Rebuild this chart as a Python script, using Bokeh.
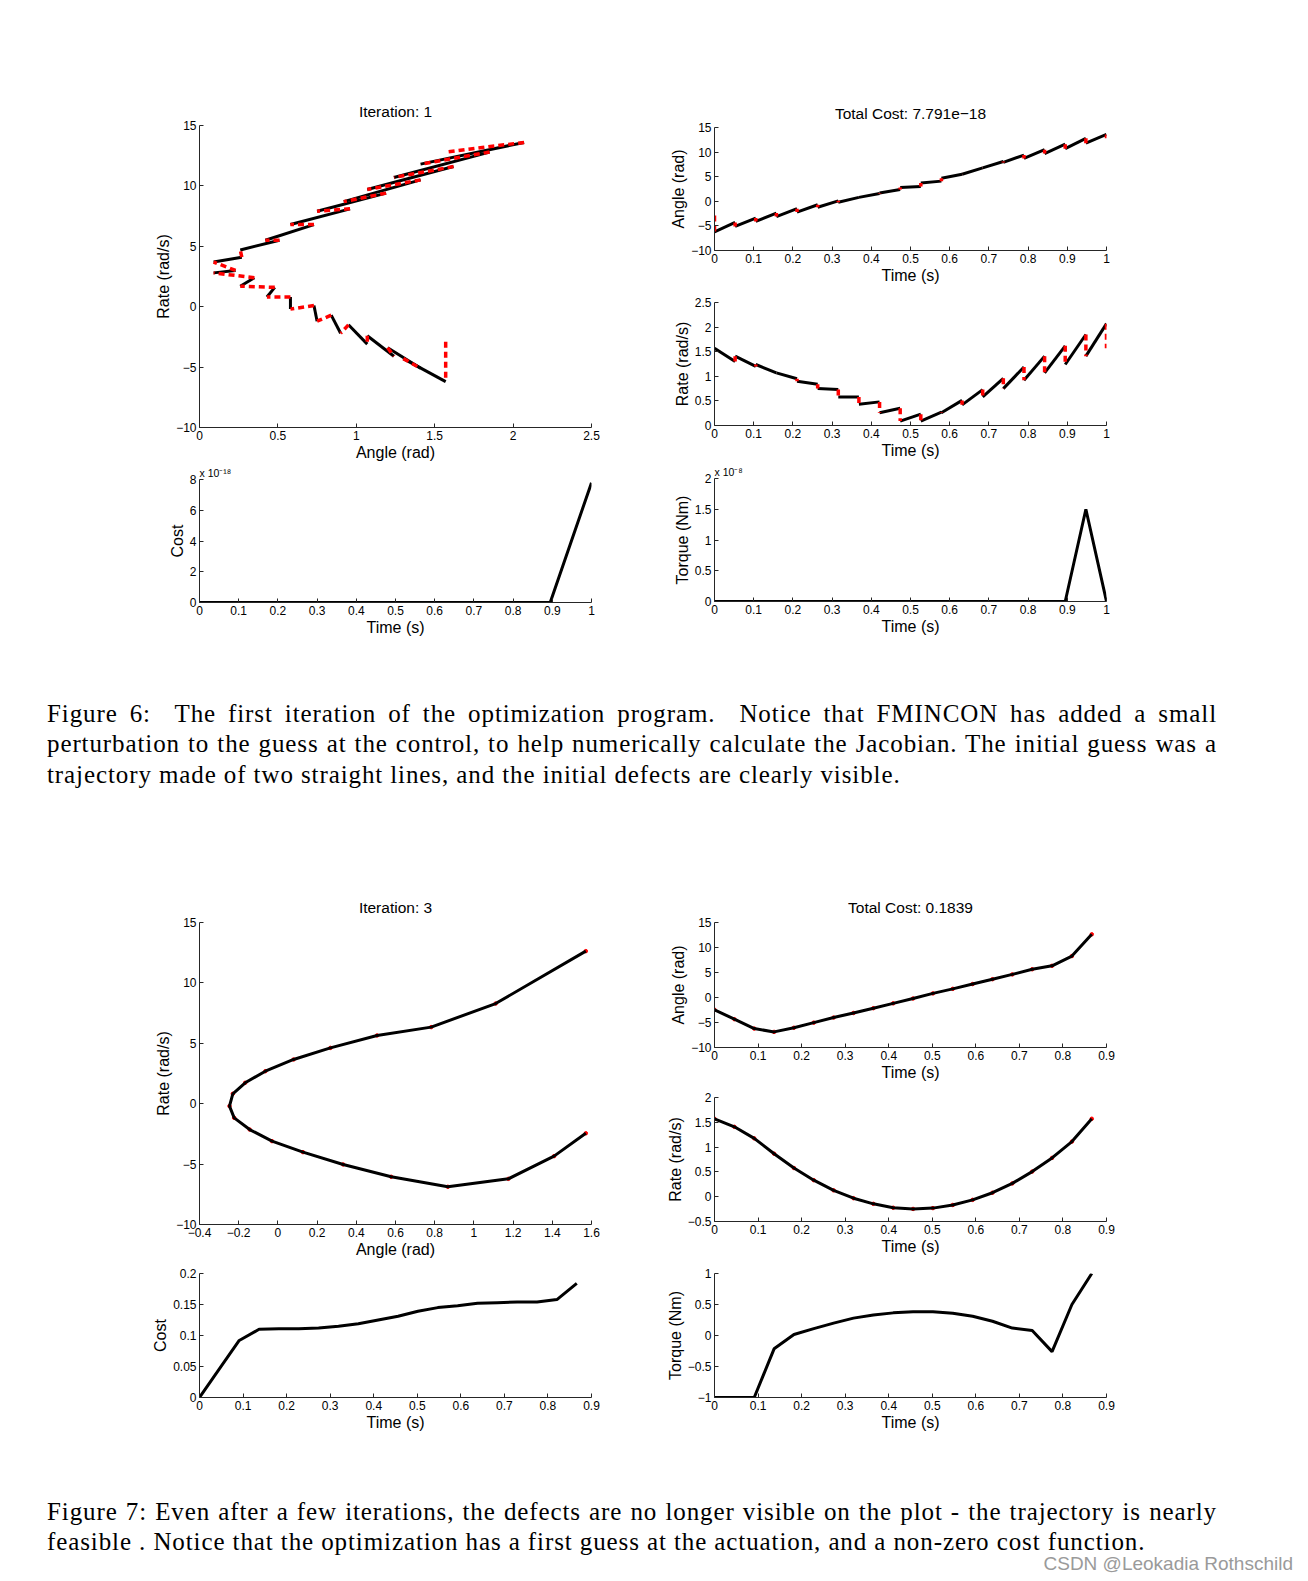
from bokeh.plotting import figure
from bokeh.layouts import column, row
from bokeh.models import Range1d, FixedTicker, CustomJSTickFormatter, Title, Div
from bokeh.embed import file_html
from bokeh.resources import INLINE

# ---------------- Figure 6 data (iteration 1) ----------------
t6_nodes = [0.0, 0.0526, 0.1053, 0.1579, 0.2105, 0.2632, 0.3158, 0.3684, 0.4211, 0.4737,
            0.5263, 0.5789, 0.6316, 0.6842, 0.7368, 0.7895, 0.8421, 0.8947, 0.9474, 1.0]
# state 1 (plotted on the "Angle (rad)" time axis / vertical axis of phase plot)
seg_a_start = [-6.2, -5.1, -4.1, -3.1, -2.2, -1.2, -0.2, 0.8, 1.7, 2.8,
               3.7, 4.7, 5.5, 6.8, 7.9, 8.7, 9.7, 10.7, 11.8]
seg_a_end = [-4.3, -3.4, -2.4, -1.5, -0.7, 0.1, 0.8, 1.6, 2.4, 3.0,
             4.1, 5.5, 6.8, 8.1, 9.4, 10.5, 11.6, 12.8, 13.6]
# state 2 (plotted on the "Rate (rad/s)" time axis / horizontal axis of phase plot)
seg_r_start = [1.57, 1.41, 1.24, 1.07, 0.90, 0.75, 0.58, 0.43, 0.26, 0.09,
               0.09, 0.26, 0.42, 0.58, 0.75, 0.92, 1.07, 1.24, 1.41]
seg_r_end = [1.30, 1.20, 1.07, 0.95, 0.84, 0.73, 0.58, 0.48, 0.35, 0.23,
             0.27, 0.51, 0.73, 0.96, 1.19, 1.41, 1.62, 1.85, 2.07]
a_targets = [-2.9, 12.8]   # boundary values (start, end)
r_targets = [1.57, 1.57]
cost6 = [0, 0, 0, 0, 0, 0, 0, 0, 0, 0, 0, 0, 0, 0, 0, 0, 0, 0, 3.9, 7.79]      # x 1e-18
torque6 = [0, 0, 0, 0, 0, 0, 0, 0, 0, 0, 0, 0, 0, 0, 0, 0, 0, 0, 1.5, 0]       # x 1e-8

# ---------------- Figure 7 data (iteration 3) ----------------
t7_nodes = [0.0, 0.0456, 0.0912, 0.1368, 0.1824, 0.2279, 0.2735, 0.3191, 0.3647, 0.4103,
            0.4559, 0.5015, 0.5471, 0.5927, 0.6383, 0.6838, 0.7294, 0.7750, 0.8206, 0.8662]
angle7 = [-2.45, -4.34, -6.22, -6.88, -6.05, -5.03, -4.01, -3.10, -2.14, -1.17,
          -0.20, 0.82, 1.73, 2.69, 3.66, 4.62, 5.65, 6.34, 8.29, 12.63]
rate7 = [1.571, 1.409, 1.176, 0.867, 0.578, 0.333, 0.128, -0.030, -0.144, -0.223,
         -0.247, -0.230, -0.167, -0.064, 0.080, 0.268, 0.506, 0.782, 1.111, 1.571]
cost7 = [0.0, 0.046, 0.092, 0.110, 0.1108, 0.111, 0.112, 0.115, 0.119, 0.125,
         0.131, 0.139, 0.145, 0.148, 0.152, 0.153, 0.154, 0.154, 0.158, 0.184]
torque7 = [-1.0, -1.0, -1.0, -0.215, 0.016, 0.11, 0.20, 0.28, 0.33, 0.365,
           0.385, 0.385, 0.36, 0.31, 0.23, 0.12, 0.08, -0.26, 0.50, 1.0]

# ---------------- ticks ----------------
ticks_m10_15 = [-10, -5, 0, 5, 10, 15]
labels_m10_15 = ["\u221210", "\u22125", "0", "5", "10", "15"]
ticks_0_25 = [0, 0.5, 1, 1.5, 2, 2.5]
labels_0_25 = ["0", "0.5", "1", "1.5", "2", "2.5"]
ticks_t1 = [0, 0.1, 0.2, 0.3, 0.4, 0.5, 0.6, 0.7, 0.8, 0.9, 1.0]
labels_t1 = ["0", "0.1", "0.2", "0.3", "0.4", "0.5", "0.6", "0.7", "0.8", "0.9", "1"]
ticks_t09 = [0, 0.1, 0.2, 0.3, 0.4, 0.5, 0.6, 0.7, 0.8, 0.9]
labels_t09 = ["0", "0.1", "0.2", "0.3", "0.4", "0.5", "0.6", "0.7", "0.8", "0.9"]
ticks_cost6 = [0, 2, 4, 6, 8]
labels_cost6 = ["0", "2", "4", "6", "8"]
ticks_torque6 = [0, 0.5, 1, 1.5, 2]
labels_torque6 = ["0", "0.5", "1", "1.5", "2"]
ticks_ph7 = [-0.4, -0.2, 0, 0.2, 0.4, 0.6, 0.8, 1.0, 1.2, 1.4, 1.6]
labels_ph7 = ["\u22120.4", "\u22120.2", "0", "0.2", "0.4", "0.6", "0.8", "1", "1.2", "1.4", "1.6"]
ticks_rate7 = [-0.5, 0, 0.5, 1, 1.5, 2]
labels_rate7 = ["\u22120.5", "0", "0.5", "1", "1.5", "2"]
ticks_cost7 = [0, 0.05, 0.1, 0.15, 0.2]
labels_cost7 = ["0", "0.05", "0.1", "0.15", "0.2"]
ticks_torque7 = [-1, -0.5, 0, 0.5, 1]
labels_torque7 = ["\u22121", "\u22120.5", "0", "0.5", "1"]

SANS = "Liberation Sans"
LW = 3
RED_W = 3.5
RED_DASH = "6 4"
AX = "#262626"


def style_axis(ax, ticks, labels, standoff):
    ax.ticker = FixedTicker(ticks=ticks)
    ax.formatter = CustomJSTickFormatter(args=dict(vals=ticks, labels=labels), code="""
        for (let i = 0; i < vals.length; i++) {
            if (Math.abs(vals[i] - tick) < 1e-9) { return labels[i]; }
        }
        return "";
    """)
    ax.axis_line_color = AX
    ax.axis_line_width = 1
    ax.major_tick_line_color = AX
    ax.major_tick_in = 4
    ax.major_tick_out = 0
    ax.minor_tick_line_color = None
    ax.major_label_text_font = SANS
    ax.major_label_text_font_size = "12px"
    ax.major_label_text_color = "black"
    ax.major_label_standoff = standoff
    ax.axis_label_text_font = SANS
    ax.axis_label_text_font_size = "16px"
    ax.axis_label_text_font_style = "normal"
    ax.axis_label_text_color = "black"
    ax.axis_label_standoff = 1


def make_fig(fw, fh, xr, yr, xt, xl, yt, yl, xlabel, ylabel, borders, title=None, title_standoff=12):
    top, right, bottom, left = borders
    p = figure(frame_width=fw, frame_height=fh,
               x_range=Range1d(*xr), y_range=Range1d(*yr),
               output_backend="svg", toolbar_location=None,
               min_border_top=top, min_border_right=right,
               min_border_bottom=bottom, min_border_left=left,
               title=title)
    p.outline_line_color = None
    p.xgrid.visible = False
    p.ygrid.visible = False
    p.background_fill_color = "white"
    p.border_fill_color = "white"
    p.xaxis.axis_label = xlabel
    p.yaxis.axis_label = ylabel
    style_axis(p.xaxis[0], xt, xl, 3)
    style_axis(p.yaxis[0], yt, yl, 3)
    if title is not None:
        p.title.text_font = SANS
        p.title.text_font_size = "15.5px"
        p.title.text_font_style = "normal"
        p.title.align = "center"
        p.title.text_color = "black"
        p.title.standoff = title_standoff
    return p


def add_exponent(p, text):
    # MATLAB-style axis multiplier shown above the top-left corner of the axes
    p.add_layout(Title(text=text, align="left", text_font=SANS, text_font_size="10.5px",
                       text_font_style="normal", text_color="black", standoff=2, offset=0), "above")


# ---- Fig 6: phase plot ----
P1 = make_fig(392, 302, (0, 2.5), (-10, 15), ticks_0_25, labels_0_25, ticks_m10_15, labels_m10_15,
              "Angle (rad)", "Rate (rad/s)", (125, 53, 36, 199), title="Iteration: 1")
P1.segment(x0=seg_r_start, y0=seg_a_start, x1=seg_r_end, y1=seg_a_end, line_color="black", line_width=LW)
dx0 = [r_targets[0]] + seg_r_end
dy0 = [a_targets[0]] + seg_a_end
dx1 = seg_r_start + [r_targets[1]]
dy1 = seg_a_start + [a_targets[1]]
P1.segment(x0=dx0, y0=dy0, x1=dx1, y1=dy1, line_color="red", line_width=RED_W, line_dash=RED_DASH)

# ---- Fig 6: angle vs time ----
P2 = make_fig(392, 123, (0, 1), (-10, 15), ticks_t1, labels_t1, ticks_m10_15, labels_m10_15,
              "Time (s)", "Angle (rad)", (127, 30, 36, 70), title="Total Cost: 7.791e\u221218")
P2.segment(x0=t6_nodes[:-1], y0=seg_a_start, x1=t6_nodes[1:], y1=seg_a_end, line_color="black", line_width=LW)
P2.segment(x0=t6_nodes, y0=dy0, x1=t6_nodes, y1=dy1, line_color="red", line_width=RED_W, line_dash=RED_DASH)

# ---- Fig 6: rate vs time ----
P3 = make_fig(392, 123, (0, 1), (0, 2.5), ticks_t1, labels_t1, ticks_0_25, labels_0_25,
              "Time (s)", "Rate (rad/s)", (16, 30, 36, 70))
P3.segment(x0=t6_nodes[:-1], y0=seg_r_start, x1=t6_nodes[1:], y1=seg_r_end, line_color="black", line_width=LW)
P3.segment(x0=t6_nodes, y0=dx0, x1=t6_nodes, y1=dx1, line_color="red", line_width=RED_W, line_dash=RED_DASH)

# ---- Fig 6: cost ----
P4 = make_fig(392, 123, (0, 1), (0, 8), ticks_t1, labels_t1, ticks_cost6, labels_cost6,
              "Time (s)", "Cost", (15, 53, 40, 199))
P4.line(t6_nodes, cost6, line_color="black", line_width=LW)
add_exponent(P4, "x 10\u207b\u00b9\u2078")

# ---- Fig 6: torque ----
P5 = make_fig(392, 123, (0, 1), (0, 2), ticks_t1, labels_t1, ticks_torque6, labels_torque6,
              "Time (s)", "Torque (Nm)", (17, 30, 40, 70))
P5.line(t6_nodes, torque6, line_color="black", line_width=LW)
add_exponent(P5, "x 10\u207b\u2078")

# ---- Fig 7 ----
Q1 = make_fig(392, 302, (-0.4, 1.6), (-10, 15), ticks_ph7, labels_ph7, ticks_m10_15, labels_m10_15,
              "Angle (rad)", "Rate (rad/s)", (133, 53, 36, 199), title="Iteration: 3", title_standoff=14)
Q1.scatter(rate7, angle7, size=3.5, color="red")
Q1.line(rate7, angle7, line_color="black", line_width=LW)

Q2 = make_fig(392, 125, (0, 0.9), (-10, 15), ticks_t09, labels_t09, ticks_m10_15, labels_m10_15,
              "Time (s)", "Angle (rad)", (133, 30, 36, 70), title="Total Cost: 0.1839", title_standoff=14)
Q2.scatter(t7_nodes, angle7, size=3.5, color="red")
Q2.line(t7_nodes, angle7, line_color="black", line_width=LW)

Q3 = make_fig(392, 124, (0, 0.9), (-0.5, 2), ticks_t09, labels_t09, ticks_rate7, labels_rate7,
              "Time (s)", "Rate (rad/s)", (14, 30, 36, 70))
Q3.scatter(t7_nodes, rate7, size=3.5, color="red")
Q3.line(t7_nodes, rate7, line_color="black", line_width=LW)

Q4 = make_fig(392, 124, (0, 0.9), (0, 0.2), ticks_t09, labels_t09, ticks_cost7, labels_cost7,
              "Time (s)", "Cost", (13, 53, 40, 199))
Q4.line(t7_nodes, cost7, line_color="black", line_width=LW)

Q5 = make_fig(392, 124, (0, 0.9), (-1, 1), ticks_t09, labels_t09, ticks_torque7, labels_torque7,
              "Time (s)", "Torque (Nm)", (16, 30, 40, 70))
Q5.line(t7_nodes, torque7, line_color="black", line_width=LW)

# ---- captions ----
cap6_lines = [
    "Figure 6:&nbsp; The first iteration of the optimization program.&nbsp; Notice that FMINCON has added a small",
    "perturbation to the guess at the control, to help numerically calculate the Jacobian. The initial guess was a",
    "trajectory made of two straight lines, and the initial defects are clearly visible.",
]
cap7_lines = [
    "Figure 7: Even after a few iterations, the defects are no longer visible on the plot - the trajectory is nearly",
    "feasible . Notice that the optimization has a first guess at the actuation, and a non-zero cost function.",
]
watermark = "CSDN @Leokadia Rothschild"

SERIF = "'Liberation Serif', 'DejaVu Serif', serif"


def caption_html(lines, first_center, height, extra=""):
    parts = []
    for i, ln in enumerate(lines):
        last = (i == len(lines) - 1)
        align = "left" if last else "justify"
        top = first_center + i * 30.4 - 15.2
        parts.append(
            f'<div style="position:absolute;left:47px;top:{top:.1f}px;width:1170px;height:30.4px;'
            f'line-height:30.4px;font-family:{SERIF};font-size:25px;letter-spacing:0.9px;color:#000;'
            f'text-align:{align};text-align-last:{align};white-space:normal;">{ln}</div>')
    return (f'<div style="position:relative;width:1300px;height:{height}px;overflow:hidden;">'
            + "".join(parts) + extra + "</div>")


cap6 = Div(text=caption_html(cap6_lines, 72, 147), width=1300, height=147, margin=(0, 0, 0, 0))
wm = (f'<div style="position:absolute;right:7px;top:117px;line-height:20px;font-family:\'Liberation Sans\',sans-serif;'
      f'font-size:19px;color:#9a9a9a;white-space:nowrap;">{watermark}</div>')
cap7 = Div(text=caption_html(cap7_lines, 75, 140, wm), width=1300, height=140, margin=(0, 0, 0, 0))

top_block = row(column(P1, P4), column(P2, P3, P5))
bottom_block = row(column(Q1, Q4), column(Q2, Q3, Q5))
layout = column(top_block, cap6, bottom_block, cap7)

open("out.html", "w").write(file_html(layout, INLINE))
